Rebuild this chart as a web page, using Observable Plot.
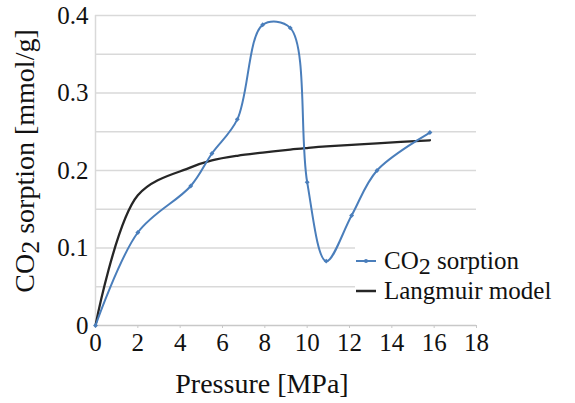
<!DOCTYPE html>
<html>
<head>
<meta charset="utf-8">
<script src="https://cdn.jsdelivr.net/npm/d3@7"></script>
<script src="https://cdn.jsdelivr.net/npm/@observablehq/plot@0.6"></script>
<style>
  html, body { margin: 0; padding: 0; background: #fff; }
  #wrap { position: relative; width: 575px; height: 403px; overflow: hidden; font-family: "Liberation Serif", "Times New Roman", Tinos, "DejaVu Serif", serif; }
  #wrap svg, #wrap svg text { font-family: "Liberation Serif", "Times New Roman", Tinos, "DejaVu Serif", serif !important; }
  #legend { position: absolute; left: 355px; top: 246px; width: 220px; background: #fff; color: #111; font-size: 25px; }
  .item { display: flex; align-items: center; height: 30px; line-height: 30px; white-space: nowrap; }
  .item svg { margin-right: 7px; flex: none; }
  sub { font-size: 24px; vertical-align: -5px; line-height: 0; }
</style>
</head>
<body>
<div id="wrap"></div>
<script>
// Data
const pressure = [0, 2, 4.5, 5.5, 6.7, 7.9, 9.2, 10.0, 10.9, 12.1, 13.3, 15.8];
const co2Sorption = [0, 0.12, 0.18, 0.222, 0.266, 0.388, 0.384, 0.185, 0.083, 0.142, 0.2, 0.249];
const langmuirPressure = [0, 2, 4.5, 5.5, 6.7, 7.9, 9.2, 10.0, 10.9, 12.1, 13.3, 15.8];
const langmuirModel = [0, 0.168, 0.204, 0.213, 0.219, 0.223, 0.227, 0.229, 0.231, 0.233, 0.235, 0.239];
const xTicks = [0, 2, 4, 6, 8, 10, 12, 14, 16, 18];
const yTicks = [0, 0.1, 0.2, 0.3, 0.4];
const yGridLines = [0.05, 0.1, 0.15, 0.2, 0.25, 0.3, 0.35, 0.4];
const seriesColors = ["#4a7ebb", "#262626"];

const sorption = pressure.map((p, i) => ({p, v: co2Sorption[i]}));
const langmuir = langmuirPressure.map((p, i) => ({p, v: langmuirModel[i]}));

const W = 575, H = 403;
const mL = 95, mR = 99, mT = 15, mB = 78;
const serif = '"Liberation Serif", "Times New Roman", Tinos, "DejaVu Serif", serif';

const plot = Plot.plot({
  width: W, height: H,
  marginLeft: mL, marginRight: mR, marginTop: mT, marginBottom: mB,
  style: {fontFamily: serif, fontSize: "25px", color: "#111", background: "#fff"},
  x: {domain: [0, 18]},
  y: {domain: [0, 0.4]},
  marks: [
    Plot.gridY(yGridLines, {stroke: "#d9d9d9", strokeOpacity: 1, strokeWidth: 1.5}),
    Plot.ruleX([0], {stroke: "#d9d9d9", strokeWidth: 1.5}),
    Plot.ruleY([0], {stroke: "#c8c8c8", strokeWidth: 1.5}),
    Plot.axisX({ticks: xTicks, tickSize: 3, tickPadding: 5, stroke: "#c8c8c8", fill: "#111", fontSize: 25, label: null}),
    Plot.axisY({ticks: yTicks, tickSize: 0, tickPadding: 7, fill: "#111", fontSize: 25, label: null,
      tickFormat: d => d === 0 ? "0" : d.toFixed(1)}),
    Plot.line(langmuir, {x: "p", y: "v", stroke: seriesColors[1], strokeWidth: 2.3, curve: "catmull-rom"}),
    Plot.line(sorption, {x: "p", y: "v", stroke: seriesColors[0], strokeWidth: 2, curve: "catmull-rom"}),
    Plot.dot(sorption, {x: "p", y: "v", fill: seriesColors[0], r: 2.2, symbol: "diamond2"})
  ]
});

const svg = d3.select(plot);
// X axis title
svg.append("text")
  .attr("x", 262).attr("y", 393)
  .attr("text-anchor", "middle")
  .style("font-family", serif).attr("font-size", 28).attr("fill", "#111")
  .text("Pressure [MPa]");
// Y axis title with subscript
const yt = svg.append("text")
  .attr("transform", "translate(34,161) rotate(-90)")
  .attr("text-anchor", "middle")
  .style("font-family", serif).attr("font-size", 28).attr("fill", "#111");
yt.append("tspan").text("CO");
yt.append("tspan").attr("dy", 5).attr("font-size", 26).text("2");
yt.append("tspan").attr("dy", -5).text(" sorption [mmol/g]");

const wrap = document.getElementById("wrap");
wrap.appendChild(plot);

// Legend
const legend = document.createElement("div");
legend.id = "legend";
legend.innerHTML = `
  <div class="item"><svg width="22" height="10"><line x1="1" x2="21" y1="5" y2="5" stroke="${seriesColors[0]}" stroke-width="2"/><circle cx="11" cy="5" r="2" fill="${seriesColors[0]}"/></svg><span>CO<sub>2</sub> sorption</span></div>
  <div class="item"><svg width="22" height="10"><line x1="1" x2="21" y1="5" y2="5" stroke="${seriesColors[1]}" stroke-width="2.5"/></svg><span>Langmuir model</span></div>`;
wrap.appendChild(legend);
</script>
</body>
</html>
